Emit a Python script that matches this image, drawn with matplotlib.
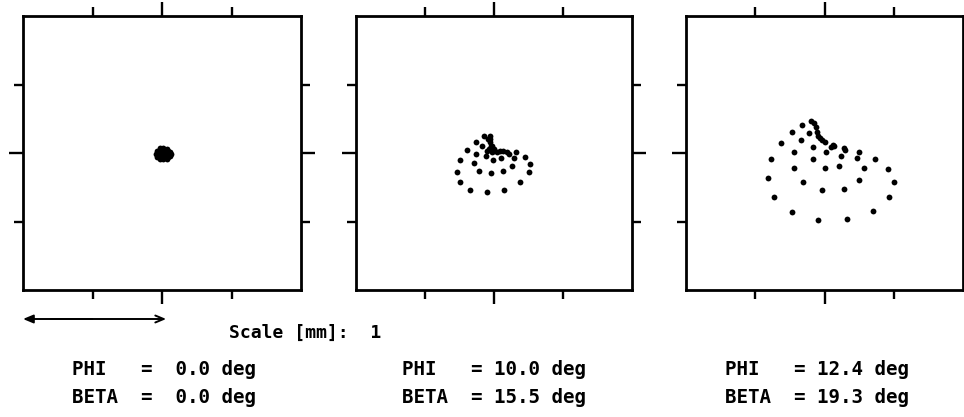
import matplotlib
matplotlib.use("Agg")
import matplotlib.pyplot as plt
from matplotlib.ticker import NullFormatter

# ---------------- data (spot positions in mm) ----------------
# Panel 1: PHI = 0.0, BETA = 0.0  -> tight focus blob
p1_x = [-0.045, -0.02, 0.005, 0.03, 0.055, 0.065,
        -0.035, -0.01, 0.015, 0.04, 0.055,
        -0.035, -0.01, 0.015, 0.04, 0.055,
        -0.015, 0.01, 0.035, -0.015, 0.01, 0.035]
p1_y = [-0.007, -0.007, -0.007, -0.007, -0.007, -0.007,
        0.015, 0.015, 0.015, 0.015, 0.010,
        -0.030, -0.030, -0.030, -0.030, -0.025,
        0.033, 0.033, 0.030, -0.045, -0.045, -0.042]

# Panel 2: PHI = 10.0, BETA = 15.5
p2_x = [-0.072, -0.031, -0.132, -0.088, -0.196, -0.132, -0.250, -0.144,
        -0.268, -0.106, -0.245, -0.171, -0.053, 0.074, -0.024, 0.067,
        0.187, 0.252, 0.261, 0.228, 0.163, 0.127, 0.144, 0.048,
        -0.007, -0.055,
        -0.029, -0.029, -0.024, -0.034, -0.053, -0.009, 0.019, 0.043,
        0.067, 0.096, 0.110, -0.017, -0.041, -0.014, 0.000]
p2_y = [0.122, 0.126, 0.082, 0.053, 0.024, -0.005, -0.053, -0.071,
        -0.136, -0.129, -0.214, -0.270, -0.287, -0.270, -0.148, -0.134,
        -0.214, -0.141, -0.078, -0.029, 0.005, -0.093, -0.039, -0.039,
        -0.053, -0.020,
        0.102, 0.078, 0.053, 0.029, 0.017, 0.017, 0.005, 0.012,
        0.012, 0.005, -0.007, 0.005, 0.102, 0.051, 0.029]

# Panel 3: PHI = 12.4, BETA = 19.3
p3_x = [-0.160, -0.237, -0.317, -0.383, -0.408, -0.365, -0.237, -0.048,
        0.163, 0.347, 0.465, 0.499, 0.458, 0.367, 0.252, 0.235,
        0.283, 0.252, 0.139, -0.019, -0.156, -0.223, -0.221, -0.168,
        -0.113, -0.086, -0.086, 0.002, 0.103, 0.117, 0.012, 0.151,
        0.139,
        -0.101, -0.077, -0.060, -0.053, -0.045, -0.036, -0.017, 0.007,
        0.048, 0.072, 0.058]
p3_y = [0.207, 0.155, 0.073, -0.044, -0.185, -0.321, -0.433, -0.487,
        -0.482, -0.421, -0.321, -0.209, -0.119, -0.044, 0.005, -0.039,
        -0.112, -0.197, -0.263, -0.270, -0.214, -0.109, 0.005, 0.093,
        0.144, 0.042, -0.044, -0.109, -0.093, -0.020, 0.005, 0.022,
        0.034,
        0.231, 0.217, 0.188, 0.151, 0.126, 0.109, 0.095, 0.078,
        0.046, 0.051, 0.058]

phi_deg = [0.0, 10.0, 12.4]
beta_deg = [0.0, 15.5, 19.3]

major_ticks = [0.0]
minor_ticks = [-0.5, 0.5]
axis_limit = 1.0
scale_mm = 1

# ---------------- figure ----------------
W, H = 964, 417
fig = plt.figure(figsize=(W / 100, H / 100), dpi=100)
fig.patch.set_facecolor("white")

boxes = [(23, 278), (356, 276), (686, 277)]   # (left px, width px)
top_px, bot_px = 16, 290
series = [(p1_x, p1_y), (p2_x, p2_y), (p3_x, p3_y)]
text_x_px = [72, 402, 725]

mono = ["DejaVu Sans Mono"]
axes = []
for (left, width), (xs, ys) in zip(boxes, series):
    ax = fig.add_axes([left / W, (H - bot_px) / H, width / W, (bot_px - top_px) / H])
    ax.plot(xs, ys, linestyle="none", marker="o", ms=4.2, color="black",
            markeredgewidth=0)
    ax.set_xlim(-axis_limit, axis_limit)
    ax.set_ylim(-axis_limit, axis_limit)
    ax.set_xticks(major_ticks)
    ax.set_yticks(major_ticks)
    ax.set_xticks(minor_ticks, minor=True)
    ax.set_yticks(minor_ticks, minor=True)
    ax.xaxis.set_major_formatter(NullFormatter())
    ax.yaxis.set_major_formatter(NullFormatter())
    ax.tick_params(which="both", direction="out", top=True, right=True,
                   bottom=True, left=True, labelbottom=False, labelleft=False,
                   width=1.7, color="black")
    ax.tick_params(which="major", length=10)
    ax.tick_params(which="minor", length=6.5)
    for sp in ax.spines.values():
        sp.set_linewidth(2.0)
        sp.set_color("black")
    axes.append(ax)

# scale arrow (1 mm in panel-1 data units)
ax1 = axes[0]
y_arrow = (H - 319) / H
ax1.annotate("", xy=(-axis_limit, y_arrow), xytext=(-axis_limit + scale_mm * 0.5, y_arrow),
             xycoords=("data", "figure fraction"), textcoords=("data", "figure fraction"),
             arrowprops=dict(arrowstyle="-|>,head_length=0.6,head_width=0.25",
                             color="black", lw=1.4, shrinkA=0, shrinkB=0),
             annotation_clip=False)
ax1.annotate("", xy=(-axis_limit + scale_mm + 0.03, y_arrow), xytext=(-axis_limit + 0.2, y_arrow),
             xycoords=("data", "figure fraction"), textcoords=("data", "figure fraction"),
             arrowprops=dict(arrowstyle="->,head_length=0.6,head_width=0.25",
                             color="black", lw=1.4, shrinkA=0, shrinkB=0),
             annotation_clip=False)

fig.text(229 / W, (H - 338) / H, "Scale [mm]:  %d" % scale_mm, family=mono,
         fontweight="bold", fontsize=13, ha="left", va="baseline")

for tx, phi, beta in zip(text_x_px, phi_deg, beta_deg):
    fig.text(tx / W, (H - 375) / H, "PHI   =%5.1f deg" % phi, family=mono,
             fontweight="bold", fontsize=13.8, ha="left", va="baseline")
    fig.text(tx / W, (H - 403) / H, "BETA  =%5.1f deg" % beta, family=mono,
             fontweight="bold", fontsize=13.8, ha="left", va="baseline")

fig.savefig("out.png", dpi=100, facecolor="white")
